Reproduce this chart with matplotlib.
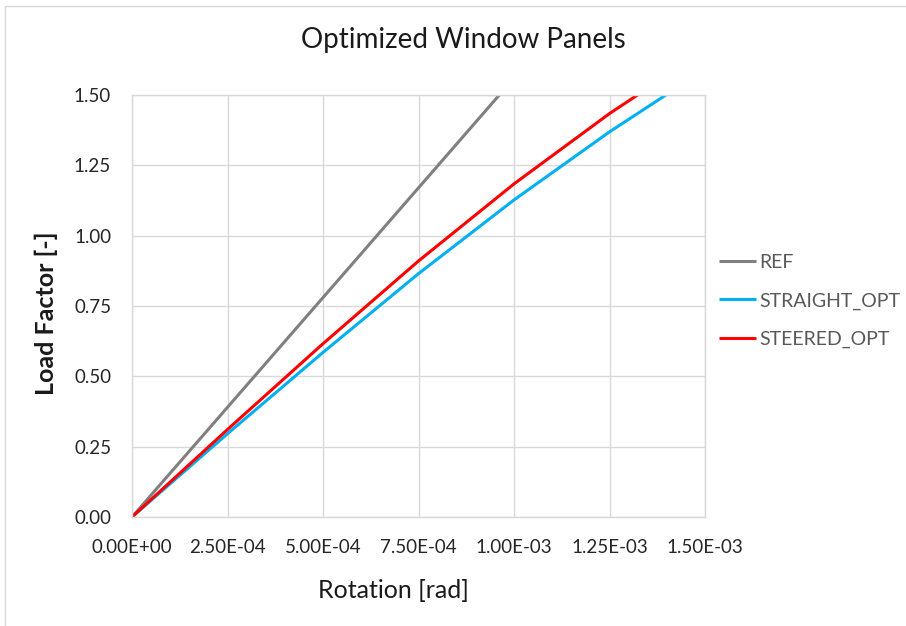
import matplotlib
matplotlib.use("Agg")
import matplotlib.pyplot as plt
from matplotlib.patches import Rectangle

# Load factor versus rotation for three window panel designs
ref_rotation = [0.0, 2.5e-4, 5.0e-4, 7.5e-4, 1.0e-3]
ref_load = [0.0, 0.390, 0.780, 1.170, 1.560]

straight_rotation = [0.0, 2.5e-4, 5.0e-4, 7.5e-4, 1.0e-3, 1.25e-3, 1.5e-3]
straight_load = [0.0, 0.296, 0.585, 0.865, 1.127, 1.369, 1.591]

steered_rotation = [0.0, 2.5e-4, 5.0e-4, 7.5e-4, 1.0e-3, 1.25e-3, 1.5e-3]
steered_load = [0.0, 0.311, 0.616, 0.910, 1.184, 1.434, 1.659]

series_names = ["REF", "STRAIGHT_OPT", "STEERED_OPT"]
series_colors = ["#808080", "#00b0f0", "#ff0000"]

x_ticks = [0.0, 2.5e-4, 5.0e-4, 7.5e-4, 1.0e-3, 1.25e-3, 1.5e-3]
x_tick_labels = ["0.00E+00", "2.50E-04", "5.00E-04", "7.50E-04",
                 "1.00E-03", "1.25E-03", "1.50E-03"]
y_ticks = [0.0, 0.25, 0.5, 0.75, 1.0, 1.25, 1.5]
y_tick_labels = ["0.00", "0.25", "0.50", "0.75", "1.00", "1.25", "1.50"]

plt.rcParams["font.family"] = ["Lato", "DejaVu Sans"]

W, H = 906, 626
fig = plt.figure(figsize=(W / 100, H / 100), dpi=100)
fig.patch.set_facecolor("white")

# light chart-area frame
fig.patches.append(Rectangle((5 / W, -0.05), 1.1, 1 - 6 / H + 0.05,
                             transform=fig.transFigure, fill=False,
                             edgecolor="#d9d9d9", linewidth=1.0))

ax = fig.add_axes([132 / W, 1 - 517 / H, (705 - 132) / W, (517 - 95) / H])

grid_color = "#d9d9d9"
for s in ax.spines.values():
    s.set_color(grid_color)
    s.set_linewidth(1.0)

ax.set_xlim(0, 1.5e-3)
ax.set_ylim(0, 1.5)
ax.set_xticks(x_ticks)
ax.set_xticklabels(x_tick_labels)
ax.set_yticks(y_ticks)
ax.set_yticklabels(y_tick_labels)
ax.grid(True, color=grid_color, linewidth=1.0)
ax.set_axisbelow(True)
ax.tick_params(length=0, labelsize=13.5, colors="#262626")
ax.tick_params(axis="x", pad=16)
ax.tick_params(axis="y", pad=15)

data = [(ref_rotation, ref_load), (straight_rotation, straight_load),
        (steered_rotation, steered_load)]
lines = []
for (xr, yl), name, c in zip(data, series_names, series_colors):
    ln, = ax.plot(xr, yl, color=c, linewidth=2.2, label=name,
                  solid_capstyle="butt", solid_joinstyle="round")
    lines.append(ln)

ax.set_xlabel("Rotation [rad]", fontsize=18, color="#1a1a1a")
ax.set_ylabel("Load Factor [-]", fontsize=18, fontweight="bold",
              color="#1a1a1a")
ax.xaxis.set_label_coords((393 - 132) / 573, (517 - 590) / 422)
ax.xaxis.label.set_va("center")
ax.yaxis.set_label_coords((46 - 132) / 573, (517 - 313) / 422)
ax.yaxis.label.set_va("center")

fig.text(463 / W, 1 - 40 / H, "Optimized Window Panels", fontsize=20,
         ha="center", va="center", color="#1a1a1a")

leg = fig.legend(lines, series_names, loc="center left",
                 bbox_to_anchor=(719 / W, 1 - 301 / H), frameon=False,
                 fontsize=14, handlelength=1.9, handletextpad=0.15,
                 labelspacing=1.1, borderpad=0, borderaxespad=0)
for t in leg.get_texts():
    t.set_color("#595959")

fig.savefig("out.png", dpi=100, facecolor="white")
